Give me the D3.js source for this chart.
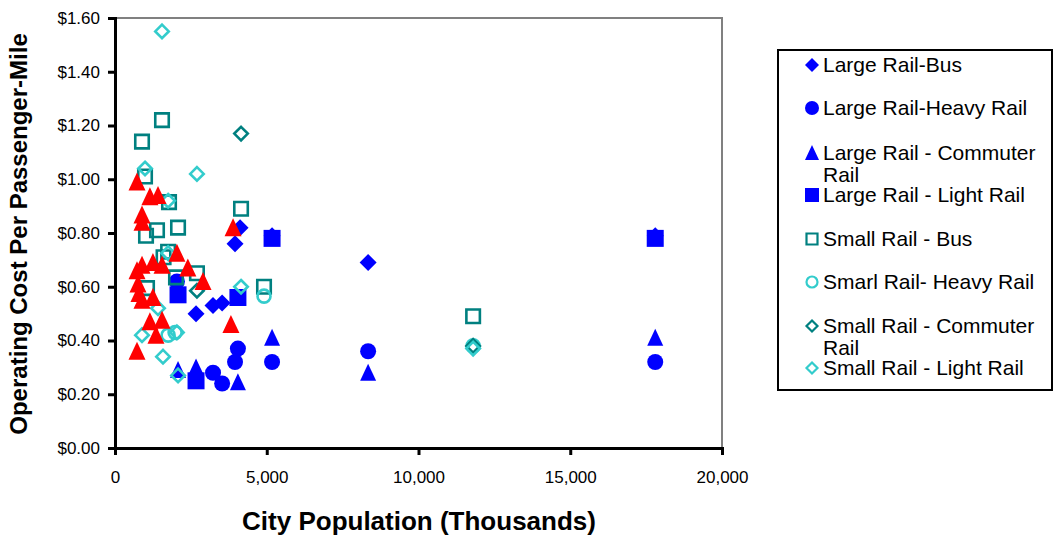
<!DOCTYPE html>
<html><head><meta charset="utf-8">
<script src="https://cdn.jsdelivr.net/npm/d3@7"></script>
<style>body{margin:0;background:#fff}svg{display:block}text{font-family:"Liberation Sans",Arial,sans-serif}</style>
</head><body><svg id="c" width="1054" height="537"></svg>
<script>
// ---- data ----
const largeBus = [[4120,0.82],[3955,0.76],[8340,0.69],[2670,0.50],[3230,0.53],[3530,0.54],[5175,0.79],[17800,0.79]];
const largeHeavy = [[2040,0.62],[4050,0.37],[3955,0.32],[5175,0.32],[3230,0.28],[3530,0.24],[8340,0.36],[17800,0.32]];
const largeCommuter = [[2077,0.29],[2670,0.30],[4050,0.245],[5175,0.41],[8340,0.28],[17800,0.41]];
const largeLight = [[2077,0.57],[2670,0.25],[4050,0.56],[5175,0.78],[17800,0.78]];
const smallBus = [[890,1.14],[1549,1.22],[989,1.01],[1780,0.915],[4153,0.89],[1384,0.81],[2077,0.82],[1022,0.79],[1600,0.71],[1750,0.73],[2010,0.635],[2700,0.65],[1055,0.595],[4910,0.60],[11800,0.49]];
const smallHeavy = [[4910,0.565],[1750,0.42],[1980,0.43],[11800,0.38]];
const smallCommuter = [[4153,1.17],[2700,0.585],[11800,0.38]];
const smallLight = [[1549,1.55],[989,1.04],[2700,1.02],[1750,0.92],[1750,0.725],[4153,0.60],[1417,0.52],[890,0.42],[1582,0.34],[2077,0.27],[2040,0.43],[11800,0.37]];
const otherRail = [[725,0.99],[1150,0.935],[1417,0.94],[890,0.867],[890,0.84],[3890,0.82],[2040,0.725],[890,0.68],[1250,0.69],[1550,0.68],[725,0.66],[2400,0.67],[2900,0.62],[758,0.61],[790,0.575],[1250,0.56],[890,0.55],[1150,0.47],[1550,0.475],[1350,0.42],[3820,0.46],[725,0.36]];

const seriesNames = ["Large Rail-Bus","Large Rail-Heavy Rail","Large Rail - Commuter Rail","Large Rail - Light Rail","Small Rail - Bus","Smarl Rail- Heavy Rail","Small Rail - Commuter Rail","Small Rail - Light Rail"];
const xTicks = [0,5000,10000,15000,20000];
const yTicks = [0,0.2,0.4,0.6,0.8,1.0,1.2,1.4,1.6];

// ---- styles ----
const BLUE="#0000ff", TEAL="#008080", CYAN="#33cccc", RED="#ff0000";
const series = [
  {data:largeBus, shape:"diamond", fill:BLUE, size:17},
  {data:largeHeavy, shape:"circle", fill:BLUE, size:16},
  {data:largeCommuter, shape:"triangle", fill:BLUE, size:16},
  {data:largeLight, shape:"square", fill:BLUE, size:17},
  {data:smallBus, shape:"square", stroke:TEAL, size:13.5},
  {data:smallHeavy, shape:"circle", stroke:CYAN, size:13},
  {data:smallCommuter, shape:"diamond", stroke:TEAL, size:13.5},
  {data:smallLight, shape:"diamond", stroke:CYAN, size:13.5},
  {data:otherRail, shape:"triangle", fill:RED, size:17}
];

function shapePath(shape, s){
  const h=s/2;
  if(shape==="diamond") return `M0,${-h}L${h},0L0,${h}L${-h},0Z`;
  if(shape==="square") return `M${-h},${-h}H${h}V${h}H${-h}Z`;
  if(shape==="triangle") return `M0,${-h-1}L${h},${h}L${-h},${h}Z`;
  if(shape==="circle") return `M${h},0A${h},${h} 0 1,1 ${-h},0A${h},${h} 0 1,1 ${h},0Z`;
}

const svg = d3.select("#c");
const L=115, R=722, T=18, B=448;
const x = d3.scaleLinear().domain([0,20000]).range([L,R]);
const y = d3.scaleLinear().domain([0,1.6]).range([B,T]);

// plot frame
svg.append("rect").attr("x",L).attr("y",T).attr("width",R-L).attr("height",B-T)
  .attr("fill","#fff").attr("stroke","#808080").attr("stroke-width",2);

// axes
const yAxis = d3.axisLeft(y).tickValues(yTicks).tickFormat(d=>"$"+d3.format(".2f")(d)).tickSize(7).tickPadding(8);
const gy = svg.append("g").attr("transform",`translate(${L},0)`).call(yAxis);
const xAxis = d3.axisBottom(x).tickValues(xTicks).tickFormat(d3.format(",")).tickSize(7).tickPadding(16);
const gx = svg.append("g").attr("transform",`translate(0,${B})`).call(xAxis);
[gx,gy].forEach(g=>{
  g.select(".domain").attr("stroke","#000").attr("stroke-width",3);
  g.selectAll(".tick line").attr("stroke","#000").attr("stroke-width",3);
  g.selectAll(".tick text").attr("fill","#000").style("font-size","17px").style("font-family","Liberation Sans, Arial, sans-serif");
});

// marks
series.forEach(s=>{
  svg.append("g").selectAll("path").data(s.data).join("path")
    .attr("transform",d=>`translate(${x(d[0])},${y(d[1])})`)
    .attr("d",shapePath(s.shape,s.size))
    .attr("fill",s.fill||"none")
    .attr("stroke",s.stroke||"none")
    .attr("stroke-width",s.stroke?2.6:0);
});

// axis titles
svg.append("text").attr("x",419).attr("y",530).attr("text-anchor","middle")
  .style("font-size","26px").style("font-weight","bold").text("City Population (Thousands)");
svg.append("text").attr("transform","translate(27,234) rotate(-90)").attr("text-anchor","middle")
  .style("font-size","24px").style("font-weight","bold").text("Operating Cost Per Passenger-Mile");

// legend
const lg = svg.append("g");
lg.append("rect").attr("x",778).attr("y",50).attr("width",274).attr("height",340)
  .attr("fill","#fff").attr("stroke","#000").attr("stroke-width",2);
const legY = [65,108,153,195,239,282,326,368];
const legendItems = series.slice(0,8).map((s,i)=>({s, name:seriesNames[i], yy:legY[i]}));
legendItems.forEach(it=>{
  const s=it.s;
  lg.append("path").attr("transform",`translate(812,${it.yy})`)
    .attr("d",shapePath(s.shape, s.stroke? 11 : 14))
    .attr("fill",s.fill||"none").attr("stroke",s.stroke||"none").attr("stroke-width",s.stroke?2.2:0);
  const words = it.name;
  let lines=[words];
  if(words.endsWith("Commuter Rail")) lines=[words.replace(/ Rail$/,""),"Rail"];
  const t = lg.append("text").attr("x",823).attr("y",it.yy+7).style("font-size","21px").attr("fill","#000");
  lines.forEach((ln,j)=>t.append("tspan").attr("x",823).attr("dy",j?22:0).text(ln));
});
</script></body></html>
